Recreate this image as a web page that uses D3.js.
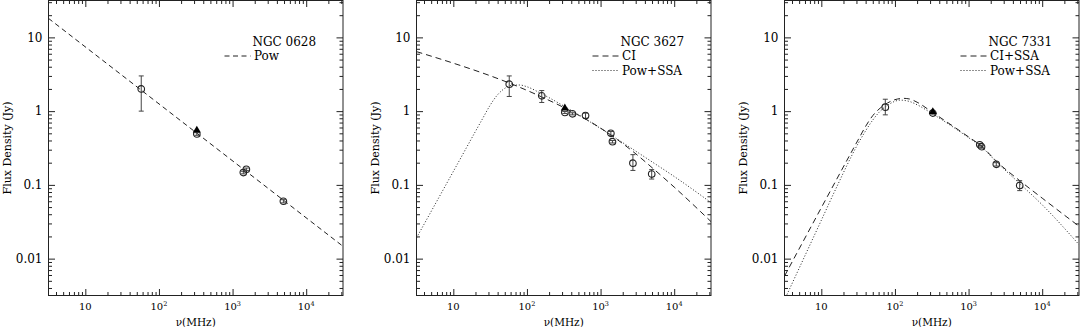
<!DOCTYPE html>
<html>
<head>
<meta charset="utf-8">
<script src="https://cdn.jsdelivr.net/npm/d3@7"></script>
<style>
  body { margin: 0; background: #fff; }
  svg { display: block; }
  text { font-family: "DejaVu Serif", serif; fill: #000; }
</style>
</head>
<body>
<div id="chart"></div>
<script>
// ---- data (MHz, Jy) ----

// NGC 0628
const n0628Freq = [57.5, 327, 1400, 1540, 4900];
const n0628Flux = [2.0, 0.49, 0.147, 0.163, 0.060];
const n0628Lo   = [1.0, 0.47, 0.141, 0.157, 0.057];
const n0628Hi   = [3.0, 0.51, 0.153, 0.169, 0.063];
const n0628TriFreq = [327];
const n0628TriFlux = [0.55];
const n0628PowFreq = [3.16, 31600];
const n0628PowFlux = [18.1, 0.0147];

// NGC 3627
const n3627Freq = [57.5, 159, 327, 415, 625, 1380, 1450, 2750, 4950];
const n3627Flux = [2.32, 1.61, 0.96, 0.92, 0.87, 0.50, 0.385, 0.197, 0.140];
const n3627Lo   = [1.58, 1.31, 0.93, 0.89, 0.80, 0.47, 0.37, 0.157, 0.120];
const n3627Hi   = [3.00, 1.90, 0.99, 0.95, 0.94, 0.53, 0.40, 0.257, 0.161];
const n3627TriFreq = [327];
const n3627TriFlux = [1.10];
const n3627CiFreq = [3.16, 10, 31.6, 56.6, 158, 328, 1000, 2770, 5050, 10000, 31600];
const n3627CiFlux = [6.41, 4.47, 3.02, 2.42, 1.56, 1.10, 0.589, 0.282, 0.170, 0.0933, 0.0318];
const n3627PowFreq = [3.16, 10, 25.1, 31.6, 39.8, 50.1, 63.1, 79.4, 100, 158, 328, 1000, 2770, 5050, 10000, 31600];
const n3627PowFlux = [0.0191, 0.152, 0.798, 1.20, 1.66, 2.04, 2.24, 2.26, 2.14, 1.72, 1.15, 0.582, 0.302, 0.204, 0.130, 0.0575];

// NGC 7331
const n7331Freq = [74, 327, 1420, 1500, 2380, 4950];
const n7331Flux = [1.13, 0.94, 0.35, 0.33, 0.19, 0.098];
const n7331Lo   = [0.89, 0.91, 0.335, 0.315, 0.18, 0.0836];
const n7331Hi   = [1.45, 0.97, 0.365, 0.345, 0.20, 0.114];
const n7331TriFreq = [327];
const n7331TriFlux = [0.98];
const n7331CiFreq = [3.16, 10, 31.6, 39.8, 50.1, 63.1, 79.4, 100, 132, 158, 200, 327, 1000, 1480, 2450, 5070, 10000, 31600];
const n7331CiFlux = [0.00579, 0.049, 0.407, 0.617, 0.871, 1.10, 1.29, 1.43, 1.49, 1.46, 1.32, 0.955, 0.447, 0.339, 0.204, 0.112, 0.0661, 0.0275];
const n7331PowFreq = [3.16, 10, 15.8, 31.6, 39.8, 50.1, 63.1, 79.4, 100, 117, 158, 200, 327, 1000, 1480, 2450, 5070, 10000, 31600];
const n7331PowFlux = [0.00275, 0.0331, 0.0891, 0.363, 0.537, 0.759, 1.00, 1.20, 1.36, 1.41, 1.35, 1.22, 0.912, 0.437, 0.331, 0.20, 0.102, 0.0537, 0.0155];

// axis ticks
const xDomain = [Math.pow(10, 0.5), Math.pow(10, 4.5)];
const yDomain = [Math.pow(10, -2.5), Math.pow(10, 1.5)];
const xTickVals = [10, 100, 1000, 10000];
const xTickSup  = ["", "2", "3", "4"];
const yTickVals = [10, 1, 0.1, 0.01];
const yTickText = ["10", "1", "0.1", "0.01"];

// ---- layout ----
const width = 1081, height = 327;
const panelLeft = [48.5, 416.5, 784.5];
const plotW = 294.5, plotH = 295, plotTop = 0.5;

const zip = (f, s) => f.map((v, i) => [v, s[i]]);
const pointRows = (f, s, lo, hi) => f.map((v, i) => ({ freq: v, flux: s[i], lo: lo[i], hi: hi[i] }));

const panels = [
    {
        name: "NGC 0628",
        points: pointRows(n0628Freq, n0628Flux, n0628Lo, n0628Hi),
        tris: zip(n0628TriFreq, n0628TriFlux),
        curves: [{ label: "Pow", dash: "5,3.5", data: zip(n0628PowFreq, n0628PowFlux) }]
    },
    {
        name: "NGC 3627",
        points: pointRows(n3627Freq, n3627Flux, n3627Lo, n3627Hi),
        tris: zip(n3627TriFreq, n3627TriFlux),
        curves: [
            { label: "CI", dash: "6,4", data: zip(n3627CiFreq, n3627CiFlux) },
            { label: "Pow+SSA", dash: "1,2", data: zip(n3627PowFreq, n3627PowFlux) }
        ]
    },
    {
        name: "NGC 7331",
        points: pointRows(n7331Freq, n7331Flux, n7331Lo, n7331Hi),
        tris: zip(n7331TriFreq, n7331TriFlux),
        curves: [
            { label: "CI+SSA", dash: "6,4", data: zip(n7331CiFreq, n7331CiFlux) },
            { label: "Pow+SSA", dash: "1,2", data: zip(n7331PowFreq, n7331PowFlux) }
        ]
    }
];

const svg = d3.select("#chart").append("svg")
    .attr("width", width)
    .attr("height", height);

const ink = "#222";
const isMajor = v => Math.abs(Math.log10(v) - Math.round(Math.log10(v))) < 1e-6;

function drawPanel(panel, i) {
    const g = svg.append("g")
        .attr("class", "panelG")
        .attr("transform", `translate(${panelLeft[i]},${plotTop})`);

    const x = d3.scaleLog().domain(xDomain).range([0, plotW]);
    const y = d3.scaleLog().domain(yDomain).range([plotH, 0]);

    const xMinor = x.ticks().filter(v => !isMajor(v));
    const yMinor = y.ticks().filter(v => !isMajor(v));

    // ticks on all four sides, pointing inward
    const axes = [
        [d3.axisBottom(x), `translate(0,${plotH})`, xTickVals, xMinor],
        [d3.axisTop(x), "translate(0,0)", xTickVals, xMinor],
        [d3.axisLeft(y), "translate(0,0)", yTickVals, yMinor],
        [d3.axisRight(y), `translate(${plotW},0)`, yTickVals, yMinor]
    ];
    axes.forEach(([axis, tr, major, minor]) => {
        [[major, 6.5], [minor, 3.5]].forEach(([vals, len]) => {
            g.append("g")
                .attr("transform", tr)
                .attr("color", ink)
                .call(axis.tickValues(vals).tickSizeInner(-len).tickSizeOuter(0).tickFormat(""))
                .call(s => s.select(".domain").remove());
        });
    });

    g.append("rect")
        .attr("width", plotW)
        .attr("height", plotH)
        .attr("fill", "none")
        .attr("stroke", ink)
        .attr("stroke-width", 1);

    // tick labels
    g.selectAll(".ylab")
        .data(yTickVals)
        .join("text")
        .attr("class", "ylab")
        .attr("x", -6)
        .attr("y", d => y(d))
        .attr("dy", "0.36em")
        .attr("text-anchor", "end")
        .style("font-size", "12px")
        .text((d, k) => yTickText[k]);

    const xl = g.selectAll(".xlab")
        .data(xTickVals)
        .join("text")
        .attr("class", "xlab")
        .attr("x", d => x(d))
        .attr("y", plotH + 14.5)
        .attr("text-anchor", "middle")
        .style("font-size", "10px");
    xl.append("tspan").text("10");
    xl.append("tspan")
        .attr("dy", -4)
        .style("font-size", "6.5px")
        .text((d, k) => xTickSup[k]);

    // axis titles
    g.append("text")
        .attr("x", plotW / 2)
        .attr("y", 325.5 - plotTop)
        .attr("text-anchor", "middle")
        .style("font-size", "10.5px")
        .text("\u03bd(MHz)");

    g.append("text")
        .attr("transform", `translate(-37.5,${plotH / 2}) rotate(-90)`)
        .attr("text-anchor", "middle")
        .style("font-size", "11px")
        .text("Flux Density (Jy)");

    // model curves, clipped to the frame
    const clipId = "clip" + i;
    g.append("clipPath").attr("id", clipId)
        .append("rect").attr("width", plotW).attr("height", plotH);

    const line = d3.line()
        .x(d => x(d[0]))
        .y(d => y(d[1]))
        .curve(d3.curveMonotoneX);

    g.append("g")
        .attr("clip-path", `url(#${clipId})`)
        .selectAll("path")
        .data(panel.curves)
        .join("path")
        .attr("d", d => line(d.data))
        .attr("fill", "none")
        .attr("stroke", ink)
        .attr("stroke-width", 1)
        .attr("stroke-dasharray", d => d.dash);

    // error bars + open circles
    const pts = g.append("g").attr("class", "allDotsG");
    const dot = pts.selectAll(".dotG")
        .data(panel.points)
        .join("g")
        .attr("class", "dotG")
        .attr("transform", d => `translate(${x(d.freq)},0)`);
    dot.append("line")
        .attr("y1", d => y(d.lo))
        .attr("y2", d => y(d.hi))
        .attr("stroke", "#444");
    ["lo", "hi"].forEach(k => {
        dot.append("line")
            .attr("x1", -2.5).attr("x2", 2.5)
            .attr("y1", d => y(d[k]))
            .attr("y2", d => y(d[k]))
            .attr("stroke", "#444");
    });
    dot.append("circle")
        .attr("cy", d => y(d.flux))
        .attr("r", 3.3)
        .attr("fill", "none")
        .attr("stroke", ink)
        .attr("stroke-width", 1.1);

    pts.selectAll(".tri")
        .data(panel.tris)
        .join("path")
        .attr("class", "tri")
        .attr("transform", d => `translate(${x(d[0])},${y(d[1])})`)
        .attr("d", d3.symbol(d3.symbolTriangle, 28))
        .attr("fill", "#000");

    // legend
    const lg = g.append("g").attr("class", "legendG");
    lg.append("text")
        .attr("x", 204)
        .attr("y", 46 - plotTop)
        .style("font-size", "12px")
        .text(panel.name);
    panel.curves.forEach((c, k) => {
        const base = 60 + k * 14.5 - plotTop;
        lg.append("line")
            .attr("x1", 176).attr("x2", 202)
            .attr("y1", base - 4).attr("y2", base - 4)
            .attr("stroke", ink)
            .attr("stroke-dasharray", c.dash);
        lg.append("text")
            .attr("x", 205.5)
            .attr("y", base)
            .style("font-size", "12px")
            .text(c.label);
    });
}

panels.forEach(drawPanel);
</script>
</body>
</html>
